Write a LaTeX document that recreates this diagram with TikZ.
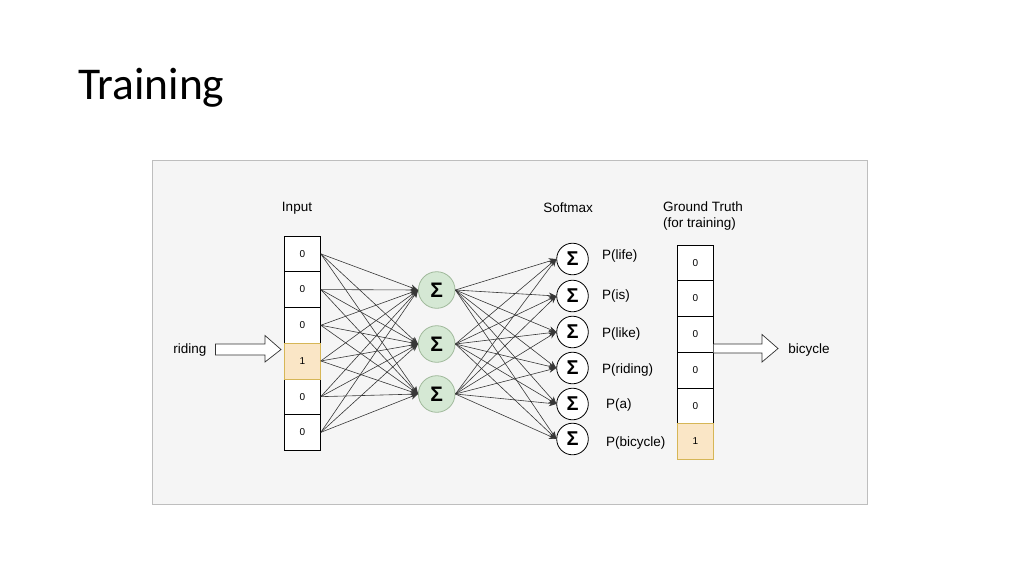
\documentclass[tikz,border=0pt]{standalone}
\usepackage{fontspec}
\setmainfont{Liberation Sans}
\newfontfamily\titlefont{Carlito}
\usetikzlibrary{arrows.meta}
\definecolor{panelfill}{RGB}{245,245,245}
\definecolor{panelborder}{RGB}{190,190,190}
\definecolor{hidfill}{RGB}{213,232,212}
\definecolor{hiddraw}{RGB}{160,185,155}
\definecolor{onefill}{RGB}{250,230,198}
\definecolor{onedraw}{RGB}{214,182,86}
\definecolor{edgecol}{RGB}{55,55,55}
\tikzset{
  cell/.style={draw=black, line width=0.6pt, fill=white, minimum width=36, minimum height=35.7, inner sep=0pt, font=\fontsize{10}{10}\selectfont},
  onecell/.style={cell, fill=onefill, draw=onedraw},
  hid/.style={circle, draw=hiddraw, line width=0.8pt, fill=hidfill, minimum size=36.6, inner sep=0pt, font=\fontsize{21}{21}\selectfont\bfseries},
  soft/.style={circle, draw=black, line width=0.8pt, fill=white, minimum size=31.6, inner sep=0pt, font=\fontsize{20}{20}\selectfont\bfseries},
  lbl/.style={font=\fontsize{13.5}{16.5}\selectfont, inner sep=0pt},
  conn/.style={draw=edgecol, line width=0.6pt, -{Stealth[length=7.5pt,width=6pt]}},
  blockarrow/.style={draw=black!80, line width=0.7pt, fill=white},
}
\begin{document}
\begin{tikzpicture}[x=1pt,y=-1pt]
\useasboundingbox (0,0) rectangle (1024,576);
% title
\node[anchor=base west, inner sep=0pt, font=\titlefont\fontsize{45.5}{45.5}\selectfont] (title) at (78,99) {Training};
% panel
\draw[fill=panelfill, draw=panelborder, line width=0.8pt] (152,160) rectangle (867,504);
% labels
\node[lbl] (inputlbl) at (297,208) {Input};
\node[lbl] (softlbl) at (568,208) {Softmax};
\node[lbl, align=left, anchor=north west] (gtlbl) at (663,201.5) {Ground Truth\\(for training)};
% input cells
\foreach \i/\v in {0/0,1/0,2/0,4/0,5/0} {
  \node[cell] (in\i) at (302.5, 253.85+35.7*\i) {\v};
}
\node[onecell] (in3) at (302.5, 253.85+35.7*3) {1};
% ground truth cells
\foreach \i in {0,...,4} {
  \node[cell] (gt\i) at (695.5, 262.85+35.7*\i) {0};
}
\node[onecell] (gt5) at (695.5, 262.85+35.7*5) {1};
% hidden
\node[hid] (h0) at (436.7,290) {Σ};
\node[hid] (h1) at (436.7,344) {Σ};
\node[hid] (h2) at (436.7,394) {Σ};
% softmax
\node[soft] (s0) at (572.5,259) {Σ};
\node[soft] (s1) at (572.5,296) {Σ};
\node[soft] (s2) at (572.5,332) {Σ};
\node[soft] (s3) at (572.5,368) {Σ};
\node[soft] (s4) at (572.5,404) {Σ};
\node[soft] (s5) at (572.5,439) {Σ};
% P labels
\node[lbl, anchor=west] (p0) at (602,256) {P(life)};
\node[lbl, anchor=west] (p1) at (602,296) {P(is)};
\node[lbl, anchor=west] (p2) at (602,334) {P(like)};
\node[lbl, anchor=west] (p3) at (602,370) {P(riding)};
\node[lbl, anchor=west] (p4) at (606,405) {P(a)};
\node[lbl, anchor=west] (p5) at (606,443) {P(bicycle)};
% connections
\foreach \i in {0,...,5} {
  \foreach \j in {0,1,2} {
    \draw[conn] (in\i.east) -- (h\j.west);
  }
}
\foreach \j in {0,1,2} {
  \foreach \k in {0,...,5} {
    \draw[conn] (h\j.east) -- (s\k.west);
  }
}
% riding arrow
\node[lbl] (riding) at (190,350) {riding};
\draw[blockarrow] (215.5,344) -- (265,344) -- (265,335.5) -- (281,349.5) -- (265,362) -- (265,355) -- (215.5,355) -- cycle;
% bicycle arrow
\node[lbl] (bicycle) at (809,350) {bicycle};
\draw[blockarrow] (713.5,344) -- (762,344) -- (762,334.5) -- (778,348.5) -- (762,362) -- (762,353) -- (713.5,353);
\end{tikzpicture}
\end{document}
